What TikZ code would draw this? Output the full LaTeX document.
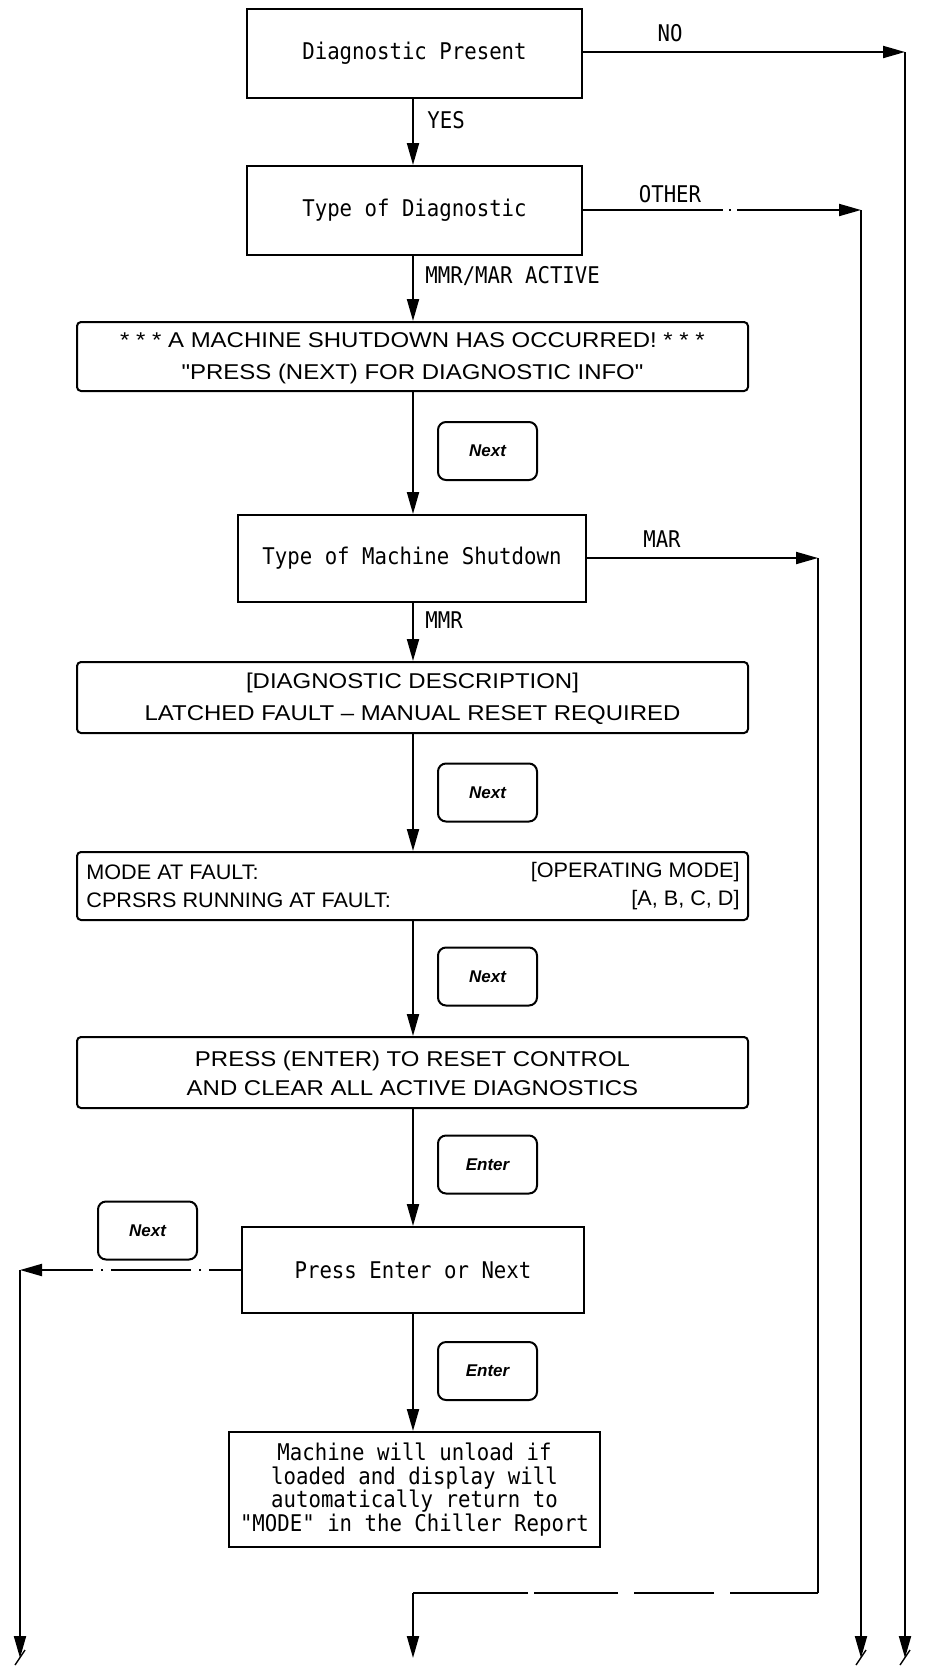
\documentclass[tikz,border=0pt]{standalone}
\usepackage{fontspec}
\newfontfamily\monof[FakeStretch=0.9]{DejaVu Sans Mono}
\newfontfamily\helv[FakeStretch=1.12]{Liberation Sans}
\newfontfamily\helvs[FakeStretch=1.03]{Liberation Sans}
\newfontfamily\keyf{Liberation Sans}
\usetikzlibrary{arrows.meta}
\begin{document}
\begin{tikzpicture}[x=0.5pt,y=-0.5pt,
  box/.style={draw,line width=1pt,inner sep=0pt,font=\monof\fontsize{11.5}{11.85}\selectfont,align=center},
  wbox/.style={draw,line width=1pt,rounded corners=2pt,inner sep=0pt,minimum width=335.5pt},
  wtxt/.style={inner sep=0pt,align=center,font=\helv\fontsize{10.7}{16}\selectfont},
  key/.style={draw,line width=1pt,rounded corners=4pt,minimum width=49.5pt,minimum height=29pt,inner sep=0pt,font=\keyf\bfseries\itshape\fontsize{8.5}{9}\selectfont},
  lab/.style={font=\monof\fontsize{11.5}{12}\selectfont,inner sep=0pt},
  htxt/.style={font=\helvs\fontsize{10.5}{12}\selectfont,inner sep=0pt},
  conn/.style={line width=1pt,-{Triangle[length=11pt,width=6pt]}},
  plain/.style={line width=1pt}
]
\useasboundingbox (0,0) rectangle (925,1666);

% boxes
\node[box,minimum width=167.5pt,minimum height=44.5pt] (b1) at (414.5,53.5) {Diagnostic Present};
\node[box,minimum width=167.5pt,minimum height=44.5pt] (b2) at (414.5,210.5) {Type of Diagnostic};
\node[wbox,minimum height=34.5pt] (b3) at (412.5,356.5) {};
\node[wtxt] (b3t) at ([yshift=-1pt]b3.center)
  {* * * A MACHINE SHUTDOWN HAS OCCURRED! * * *\\"PRESS (NEXT) FOR DIAGNOSTIC INFO"};
\node[box,minimum width=174pt,minimum height=43.5pt] (b4) at (412,558.5) {Type of Machine Shutdown};
\node[wbox,minimum height=35.5pt] (b5) at (412.5,697.5) {};
\node[wtxt] (b5t) at ([yshift=-0.5pt]b5.center)
  {[DIAGNOSTIC DESCRIPTION]\\LATCHED FAULT – MANUAL RESET REQUIRED};
\node[wbox,minimum height=34pt] (b6) at (412.5,886) {};
\node[htxt,anchor=west] (b6a) at (86,872) {MODE AT FAULT:};
\node[htxt,anchor=east] (b6b) at (740,872) {[OPERATING MODE]};
\node[htxt,anchor=west] (b6c) at (86,900) {CPRSRS RUNNING AT FAULT:};
\node[htxt,anchor=east] (b6d) at (740,900) {[A, B, C, D]};
\node[wbox,minimum height=35.5pt] (b7) at (412.5,1072.5) {};
\node[wtxt,font=\helv\fontsize{10.7}{14.5}\selectfont] (b7t) at ([yshift=-0.5pt]b7.center)
  {PRESS (ENTER) TO RESET CONTROL\\AND CLEAR ALL ACTIVE DIAGNOSTICS};
\node[box,minimum width=171pt,minimum height=43pt] (b8) at (413,1270) {Press Enter or Next};
\node[box,minimum width=185.5pt,minimum height=57.5pt] (b9) at (414.5,1489.5)
  {Machine will unload if\\loaded and display will\\automatically return to\\"MODE" in the Chiller Report};

% keys
\node[key] (k1) at (487.5,451) {Next};
\node[key] (k2) at (487.5,792.5) {Next};
\node[key] (k3) at (487.5,976.5) {Next};
\node[key] (k4) at (487.5,1164.5) {Enter};
\node[key] (k5) at (147.5,1230.5) {Next};
\node[key] (k6) at (487.5,1371) {Enter};

% labels
\node[lab] (lno) at (670,33) {NO};
\node[lab,anchor=west] (lyes) at (427,120) {YES};
\node[lab] (loth) at (670,194) {OTHER};
\node[lab,anchor=west] (lact) at (425,276) {MMR/MAR ACTIVE};
\node[lab] (lmar) at (662,539) {MAR};
\node[lab,anchor=west] (lmmr) at (425,620) {MMR};

% helper coordinates
\coordinate (noC) at (905,52);
\coordinate (noE) at (905,1658);
\coordinate (otC) at (861,210);
\coordinate (otE) at (861,1658);
\coordinate (maC) at (818,558);
\coordinate (maD) at (818,1593);
\coordinate (maL) at (413,1593);
\coordinate (maE) at (413,1658);
\coordinate (lfC) at (20,1270);
\coordinate (lfE) at (20,1658);

% main column
\draw[conn] (b1.south -| 413,0) -- (b2.north -| 413,0);
\draw[conn] (b2.south -| 413,0) -- (b3.north -| 413,0);
\draw[conn] (b3.south -| 413,0) -- (b4.north -| 413,0);
\draw[conn] (b4.south -| 413,0) -- (b5.north -| 413,0);
\draw[conn] (b5.south -| 413,0) -- (b6.north -| 413,0);
\draw[conn] (b6.south -| 413,0) -- (b7.north -| 413,0);
\draw[conn] (b7.south -| 413,0) -- (b8.north -| 413,0);
\draw[conn] (b8.south -| 413,0) -- (b9.north -| 413,0);

% side branches
\draw[conn] (b1.east |- noC) -- (noC);
\draw[conn] (noC) -- (noE);
\draw[conn,dash pattern=on 70pt off 3pt on 1pt off 3pt on 100pt off 0pt] (b2.east |- otC) -- (otC);
\draw[conn] (otC) -- (otE);
\draw[conn] (b4.east |- maC) -- (maC);
\draw[plain] (maC) -- (maD);
\draw[plain,dash pattern=on 44pt off 8pt on 40pt off 8pt on 42pt off 3pt on 70pt off 0pt] (maD) -- (maL);
\draw[conn] (maL) -- (maE);
\draw[conn,dash pattern=on 16pt off 4pt on 1pt off 4pt on 40pt off 4pt on 1pt off 4pt on 100pt off 0pt] (b8.west |- lfC) -- (lfC);
\draw[conn] (lfC) -- (lfE);

% break marks
\foreach \xx in {20,861,905}{
  \draw[line width=0.7pt] (\xx-5,1665) -- (\xx+5,1650);
}
\end{tikzpicture}
\end{document}
